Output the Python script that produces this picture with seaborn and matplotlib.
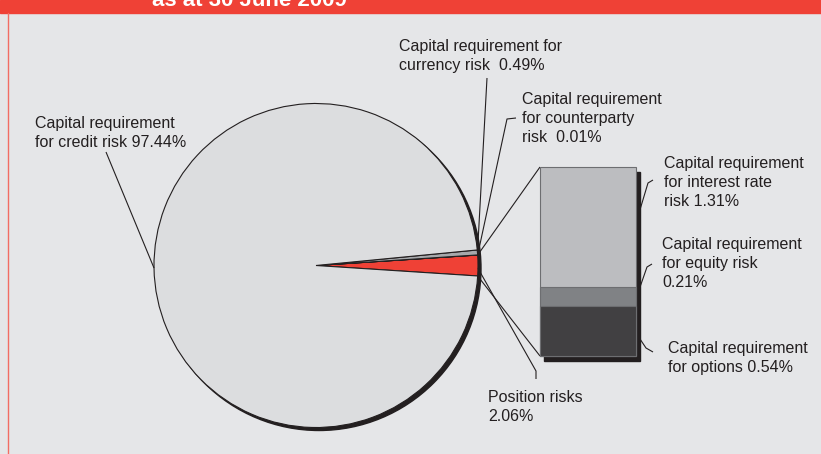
import numpy as np
import matplotlib
matplotlib.use("Agg")
import matplotlib.pyplot as plt
from matplotlib.patches import Circle, Rectangle
import seaborn as sns

# Shares of the total capital requirement (%), pie order
pie_labels = ["Position risks", "Counterparty risk", "Currency risk", "Credit risk"]
pie_values = [2.06, 0.01, 0.49, 97.44]
pie_colors = ["#EF4136", "#808285", "#A7A9AC", "#DCDDDF"]

# Breakdown of position risks (%), bottom to top of the bar
bar_labels = ["Options", "Equity risk", "Interest rate risk"]
bar_values = [0.54, 0.21, 1.31]
bar_colors = ["#414042", "#808285", "#BCBDC0"]

title = "as at 30 June 2009"

BG = "#E5E6E8"
RED = "#EF4136"
INK = "#231F20"
EDGE = "#6D6E71"

sns.set_theme(style="white")
plt.rcParams["font.family"] = ["Liberation Sans", "DejaVu Sans"]

W, H = 821, 454
fig = plt.figure(figsize=(W / 100, H / 100), dpi=100, facecolor=BG)
ax = fig.add_axes([0, 0, 1, 1])

# pie layout (pixel space, y pointing down)
CX, CY, R = 316, 265.5, 162
wedges, _ = ax.pie(
    pie_values, colors=pie_colors, center=(CX, CY), radius=R,
    startangle=pie_values[0] * 3.6 / 2, counterclock=False, frame=True,
    wedgeprops=dict(edgecolor=INK, linewidth=0.8, zorder=2),
)
ax.add_patch(Circle((CX + 3, CY + 3), R, color=INK, zorder=1))
ax.set_xlim(0, W)
ax.set_ylim(H, 0)
ax.set_aspect("equal")
ax.axis("off")


def edge_pt(theta):
    t = np.deg2rad(theta)
    return CX + R * np.cos(t), CY + R * np.sin(t)


def mid(w):
    return (w.theta1 + w.theta2) / 2


# stacked bar for the position-risk breakdown
BAR_L, BAR_T, BAR_W, BAR_H = 540, 167, 96, 189
ax.add_patch(Rectangle((BAR_L + 4, BAR_T + 5), BAR_W, BAR_H, color=INK, zorder=1))
ax_bar = fig.add_axes([BAR_L / W, 1 - (BAR_T + BAR_H) / H, BAR_W / W, BAR_H / H])
cum = np.cumsum(bar_values)
for i in reversed(range(len(bar_values))):
    sns.barplot(x=["Position risks"], y=[cum[i]], color=bar_colors[i], width=1,
                saturation=1, edgecolor=EDGE, linewidth=0.8, ax=ax_bar)
for p in ax_bar.patches:
    p.set_clip_on(False)
ax_bar.set_xlim(-0.5, 0.5)
ax_bar.set_ylim(0, cum[-1])
ax_bar.axis("off")

# connectors between the red slice and the bar
lk = dict(color=INK, lw=0.8, zorder=3, solid_capstyle="butt")
p_top = edge_pt(wedges[0].theta1)
p_bot = edge_pt(wedges[0].theta2)
ax.plot([p_top[0], BAR_L], [p_top[1], BAR_T], **lk)
ax.plot([p_bot[0], BAR_L], [p_bot[1], BAR_T + BAR_H], **lk)

# leader lines
def leader(pts):
    xs, ys = zip(*pts)
    ax.plot(xs, ys, **lk)

leader([(106, 152), edge_pt(mid(wedges[3]))])
leader([(487, 78), edge_pt(mid(wedges[2]))])
leader([(516, 118), (507, 119), edge_pt(mid(wedges[1]))])
leader([edge_pt(mid(wedges[0]) + 1), (536, 371), (536, 379)])
leader([(653, 180), (648, 183), (639, 213)])
leader([(652, 264), (647, 267), (639, 290)])
leader([(640, 339), (646, 348), (653, 352)])

# labels
tk = dict(fontsize=11.5, color=INK, va="top", ha="left", linespacing=1.32, zorder=4)
ax.text(35, 116, f"Capital requirement\nfor credit risk {pie_values[3]:.2f}%", **tk)
ax.text(399, 39, f"Capital requirement for\ncurrency risk  {pie_values[2]:.2f}%", **tk)
ax.text(522, 92, f"Capital requirement\nfor counterparty\nrisk  {pie_values[1]:.2f}%", **tk)
ax.text(664, 156, f"Capital requirement\nfor interest rate\nrisk {bar_values[2]:.2f}%", **tk)
ax.text(662, 237, f"Capital requirement\nfor equity risk\n{bar_values[1]:.2f}%", **tk)
ax.text(668, 341, f"Capital requirement\nfor options {bar_values[0]:.2f}%", **tk)
ax.text(488, 390, f"Position risks\n{pie_values[0]:.2f}%", **tk)

# header band and left rule
ax.add_patch(Rectangle((0, 0), W, 13, color=RED, zorder=5))
ax.plot([7.5, 7.5], [13, H], color="#F26D64", lw=1, zorder=5)
ax.text(152, 6, title, color="white", fontsize=16, fontweight="bold",
        va="baseline", ha="left", zorder=6)

fig.savefig("out.png", dpi=100, facecolor=BG)
